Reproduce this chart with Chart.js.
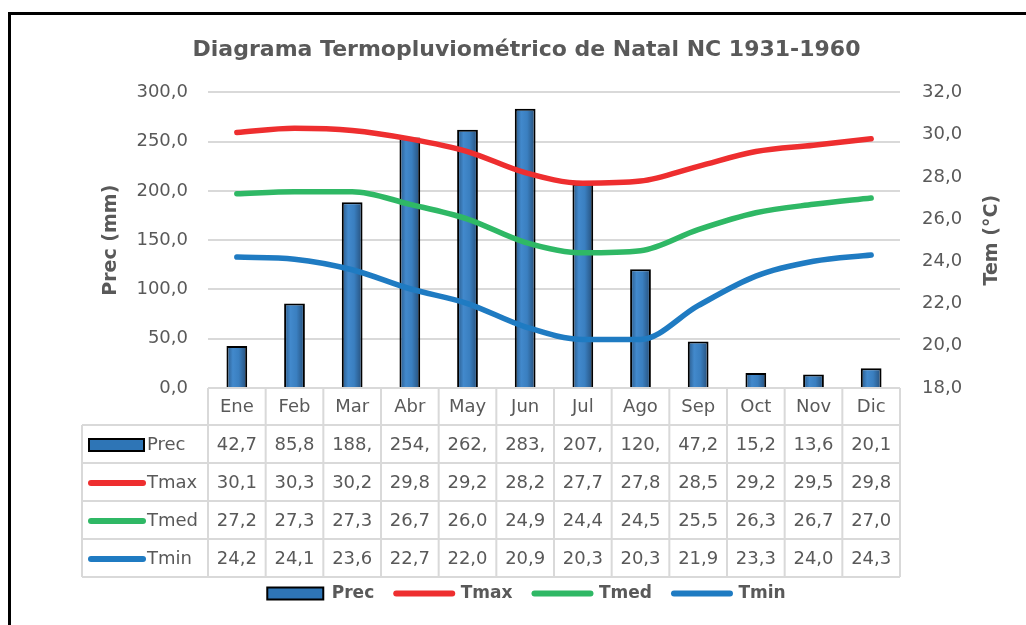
<!DOCTYPE html>
<html>
<head>
<meta charset="utf-8">
<script src="https://cdn.jsdelivr.net/npm/chart.js@4.4.1/dist/chart.umd.min.js"></script>
<style>
  html, body { margin: 0; padding: 0; background: #fff; }
  #wrap { width: 1026px; height: 625px; }
</style>
</head>
<body>
<div id="wrap"><canvas id="clima" width="1026" height="625"></canvas></div>
<script>
const meses = ["Ene", "Feb", "Mar", "Abr", "May", "Jun", "Jul", "Ago", "Sep", "Oct", "Nov", "Dic"];
const prec = [42.7, 85.8, 188.4, 254.3, 262.1, 283.5, 207.2, 120.4, 47.2, 15.2, 13.6, 20.1];
const tmax = [30.1, 30.3, 30.2, 29.8, 29.2, 28.2, 27.7, 27.8, 28.5, 29.2, 29.5, 29.8];
const tmed = [27.2, 27.3, 27.3, 26.7, 26.0, 24.9, 24.4, 24.5, 25.5, 26.3, 26.7, 27.0];
const tmin = [24.2, 24.1, 23.6, 22.7, 22.0, 20.9, 20.3, 20.3, 21.9, 23.3, 24.0, 24.3];

const gris = "#595959";
const lineaTabla = "#d9d9d9";
const rojo = "#ee2e2f";
const verde = "#2fb865";
const azul = "#1f7bc2";
const fuente = "'DejaVu Sans', sans-serif";

const fmt = v => v.toFixed(1).replace(".", ",");

function barFill(c) {
  const chart = c.chart;
  if (!chart.chartArea || c.type !== "data") return "#2e75b6";
  const x = chart.scales.x.getPixelForValue(c.dataIndex);
  const g = chart.ctx.createLinearGradient(x - 10, 0, x + 10, 0);
  g.addColorStop(0, "#2a5a8a");
  g.addColorStop(0.3, "#4289cc");
  g.addColorStop(0.6, "#3a7fc0");
  g.addColorStop(1, "#264f7a");
  return g;
}

// marco negro, título del eje derecho y tabla de datos bajo el eje
const tablaPlugin = {
  id: "tabla",
  beforeDraw(chart) {
    const ctx = chart.ctx;
    ctx.save();
    ctx.strokeStyle = "#000";
    ctx.lineWidth = 3;
    ctx.strokeRect(9.5, 13.5, 1030, 630);
    ctx.restore();
  },
  afterDraw(chart) {
    const ctx = chart.ctx;
    const xs = chart.scales.x;
    const area = chart.chartArea;
    const colW = (area.right - area.left) / meses.length;
    const top = area.bottom;
    const headH = 37;
    const rowH = 38;
    const left = 82;
    const filas = [
      { nombre: "Prec", datos: prec, tipo: "bar" },
      { nombre: "Tmax", datos: tmax, color: rojo },
      { nombre: "Tmed", datos: tmed, color: verde },
      { nombre: "Tmin", datos: tmin, color: azul }
    ];
    const bottom = top + headH + rowH * filas.length;

    ctx.save();
    // título eje derecho, leído de abajo hacia arriba
    ctx.translate(992, (area.top + area.bottom) / 2);
    ctx.rotate(-Math.PI / 2);
    ctx.fillStyle = gris;
    ctx.font = "bold 19px " + fuente;
    ctx.textAlign = "center";
    ctx.textBaseline = "middle";
    ctx.fillText("Tem (°C)", 0, 0);
    ctx.restore();

    ctx.save();
    ctx.strokeStyle = lineaTabla;
    ctx.lineWidth = 2;
    ctx.beginPath();
    ctx.moveTo(area.left, top); ctx.lineTo(area.right, top);
    for (let r = 0; r <= filas.length; r++) {
      const y = top + headH + r * rowH;
      ctx.moveTo(left, y); ctx.lineTo(area.right, y);
    }
    ctx.moveTo(left, top + headH); ctx.lineTo(left, bottom);
    for (let i = 0; i <= meses.length; i++) {
      const x = area.left + i * colW;
      ctx.moveTo(x, top); ctx.lineTo(x, bottom);
    }
    ctx.stroke();

    ctx.fillStyle = gris;
    ctx.font = "18px " + fuente;
    ctx.textAlign = "center";
    ctx.textBaseline = "middle";
    meses.forEach((m, i) => {
      ctx.fillText(m, xs.getPixelForValue(i), top + headH / 2 + 1);
    });

    filas.forEach((f, r) => {
      const yc = top + headH + r * rowH + rowH / 2 + 1;
      if (f.tipo === "bar") {
        ctx.fillStyle = "#2e75b6";
        ctx.fillRect(89, yc - 6, 55, 12);
        ctx.strokeStyle = "#000";
        ctx.lineWidth = 2;
        ctx.strokeRect(89, yc - 6, 55, 12);
      } else {
        ctx.strokeStyle = f.color;
        ctx.lineWidth = 6;
        ctx.lineCap = "round";
        ctx.beginPath();
        ctx.moveTo(91, yc); ctx.lineTo(143, yc);
        ctx.stroke();
      }
      ctx.fillStyle = gris;
      ctx.textAlign = "left";
      ctx.fillText(f.nombre, 147, yc);
      ctx.textAlign = "center";
      f.datos.forEach((v, i) => {
        let t = fmt(v);
        while (ctx.measureText(t).width > colW - 8 && t.length > 1) t = t.slice(0, -1);
        ctx.fillText(t, xs.getPixelForValue(i), yc);
      });
    });
    ctx.restore();
  }
};

const lineaTemp = (label, data, color) => ({
  type: "line",
  label: label,
  data: data,
  yAxisID: "y1",
  order: 1,
  borderColor: color,
  backgroundColor: color,
  borderWidth: 5.5,
  pointRadius: 0,
  cubicInterpolationMode: "monotone",
  borderCapStyle: "round",
  borderJoinStyle: "round"
});

new Chart(document.getElementById("clima"), {
  type: "bar",
  data: {
    labels: meses,
    datasets: [
      {
        label: "Prec",
        data: prec,
        yAxisID: "y",
        order: 2,
        backgroundColor: barFill,
        borderColor: "#000",
        borderWidth: 2,
        barPercentage: 0.36,
        categoryPercentage: 1
      },
      lineaTemp("Tmax", tmax, rojo),
      lineaTemp("Tmed", tmed, verde),
      lineaTemp("Tmin", tmin, azul)
    ]
  },
  options: {
    responsive: false,
    animation: false,
    devicePixelRatio: 1,
    layout: { padding: { left: 50, right: 23, top: 30, bottom: 13 } },
    scales: {
      x: {
        grid: { display: false },
        border: { display: false },
        ticks: { display: false },
        afterFit: s => { s.height = 175; }
      },
      y: {
        position: "left",
        min: 0,
        max: 300,
        ticks: { stepSize: 50, padding: 20, color: gris, font: { family: fuente, size: 18 }, callback: v => fmt(v) },
        grid: { color: lineaTabla, lineWidth: 2, drawTicks: false },
        border: { display: false },
        title: { display: true, text: "Prec (mm)", color: gris, font: { family: fuente, size: 19, weight: "bold" }, padding: { top: 50, bottom: 0 } },
        afterFit: s => { s.width = 158; }
      },
      y1: {
        position: "right",
        min: 18,
        max: 32,
        ticks: { stepSize: 2, padding: 22, color: gris, font: { family: fuente, size: 18 }, callback: v => fmt(v) },
        grid: { display: false, drawTicks: false },
        border: { display: false },
        afterFit: s => { s.width = 103; }
      }
    },
    plugins: {
      title: {
        display: true,
        text: "Diagrama Termopluviométrico de Natal NC 1931-1960",
        color: gris,
        font: { family: fuente, size: 22, weight: "bold" },
        padding: { top: 7, bottom: 29 }
      },
      legend: {
        position: "bottom",
        labels: {
          color: gris,
          font: { family: fuente, size: 17, weight: "bold" },
          usePointStyle: true,
          pointStyleWidth: 56,
          boxHeight: 12,
          padding: 22,
          generateLabels: chart => chart.data.datasets.map((ds, i) => ({
            text: ds.label,
            datasetIndex: i,
            hidden: false,
            fontColor: gris,
            pointStyle: i === 0 ? "rect" : "line",
            fillStyle: i === 0 ? "#2e75b6" : ds.borderColor,
            strokeStyle: i === 0 ? "#000" : ds.borderColor,
            lineWidth: i === 0 ? 2 : 6,
            lineCap: "round"
          }))
        }
      },
      tooltip: { enabled: false }
    }
  },
  plugins: [tablaPlugin]
});
</script>
</body>
</html>
